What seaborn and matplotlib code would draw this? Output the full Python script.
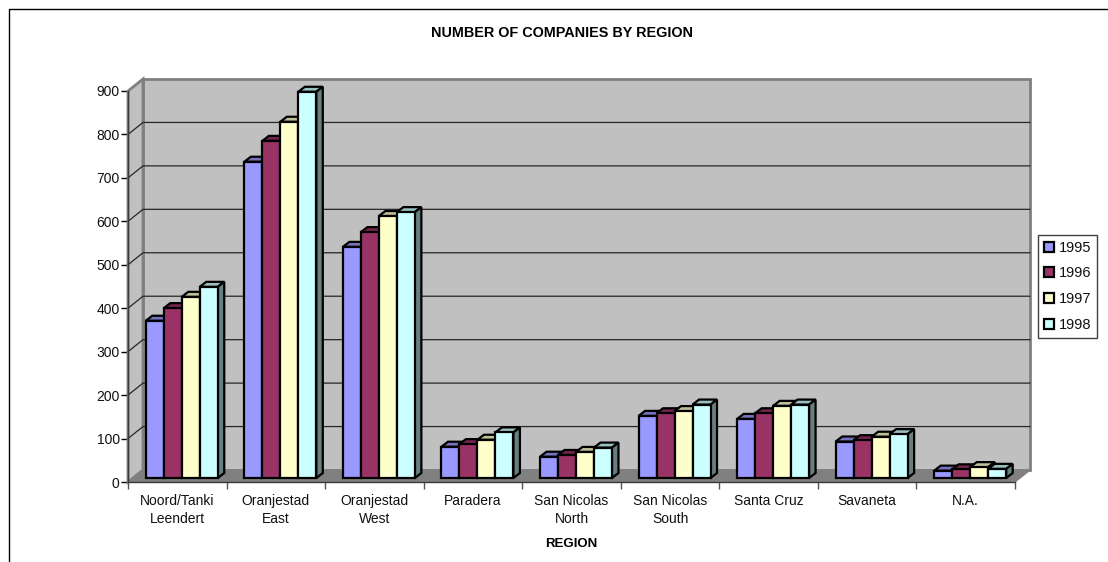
import numpy as np
import pandas as pd
import seaborn as sns
import matplotlib.pyplot as plt
from matplotlib.colors import to_rgb
from matplotlib.patches import Polygon, Rectangle

# SECTION - DATA
regions = [
    "Noord/Tanki\nLeendert",
    "Oranjestad\nEast",
    "Oranjestad\nWest",
    "Paradera",
    "San Nicolas\nNorth",
    "San Nicolas\nSouth",
    "Santa Cruz",
    "Savaneta",
    "N.A.",
]
years = ["1995", "1996", "1997", "1998"]
y1995 = [362, 728, 532, 72, 49, 143, 136, 84, 17]
y1996 = [391, 776, 566, 78, 53, 149, 149, 87, 20]
y1997 = [417, 820, 603, 88, 60, 154, 166, 95, 25]
y1998 = [440, 889, 612, 105, 70, 169, 169, 101, 21]
yticks = list(range(0, 1000, 100))
colors = ["#9999FF", "#993366", "#FFFFCC", "#CCFFFF"]
# !SECTION

W, H = 1108, 562
sns.set_theme(style="white")
plt.rcParams["font.family"] = ["Liberation Sans", "DejaVu Sans"]

df = pd.DataFrame(
    {"region": regions * 4, "year": np.repeat(years, 9), "count": y1995 + y1996 + y1997 + y1998}
)

fig = plt.figure(figsize=(W / 100, H / 100), dpi=100)
ax = fig.add_axes([128 / W, (H - 482) / H, (1015 - 128) / W, (482 - 91) / H])

sns.barplot(
    data=df, x="region", y="count", hue="year", order=regions, hue_order=years,
    palette=colors, saturation=1, width=0.73, gap=0, errorbar=None,
    edgecolor="black", linewidth=1.6, ax=ax, legend=False,
)
bars = sorted(ax.patches, key=lambda p: p.get_x())
ax.set_xlim(-0.5, 8.5)
ax.set_ylim(0, 900)

# pixels to data units
px = 9 / (1015 - 128)
py = 900 / (482 - 91)

# walls and floor of the 3D box
dx, dy = 15 * px, 12 * py
wall = dict(facecolor="#C0C0C0", edgecolor="#808080", linewidth=2, clip_on=False, zorder=1)
ax.add_patch(Rectangle((-0.5 + dx, dy), 9, 900, **wall))
ax.add_patch(Polygon([(-0.5, 0), (-0.5, 900), (-0.5 + dx, 900 + dy), (-0.5 + dx, dy)], **wall))
ax.add_patch(
    Polygon([(-0.5, 0), (8.5, 0), (8.5 + dx, dy), (-0.5 + dx, dy)],
            facecolor="#808080", edgecolor="#808080", linewidth=1, clip_on=False, zorder=1.1)
)
for v in yticks[1:-1]:
    ax.plot([-0.5, -0.5 + dx, 8.5 + dx], [v, v + dy, v + dy], color="#262626", lw=0.9,
            clip_on=False, zorder=1.2, solid_joinstyle="miter")


def shade(face, k):
    return tuple(c * k for c in to_rgb(face[:3]))


# bars sit a little behind the front edge, each gets a top and a side face
bx, by = 4.5 * px, 4 * py
ox, oy = 6.5 * px, 5 * py
for i, bar in enumerate(bars):
    z = 3 + i * 0.01
    face = bar.get_facecolor()
    bar.set_x(bar.get_x() + bx)
    bar.set_y(by)
    bar.set_zorder(z + 0.005)
    bar.set_clip_on(False)
    x0, x1 = bar.get_x(), bar.get_x() + bar.get_width()
    y0, y1 = by, by + bar.get_height()
    side = dict(edgecolor="black", linewidth=1.6, clip_on=False, zorder=z, joinstyle="miter")
    ax.add_patch(Polygon([(x0, y1), (x1, y1), (x1 + ox, y1 + oy), (x0 + ox, y1 + oy)],
                         facecolor=shade(face, 0.75), **side))
    ax.add_patch(Polygon([(x1, y0), (x1, y1), (x1 + ox, y1 + oy), (x1 + ox, y0 + oy)],
                         facecolor=shade(face, 0.5), **side))

# axes
for name in ["top", "right"]:
    ax.spines[name].set_visible(False)
for name in ["left", "bottom"]:
    ax.spines[name].set_color("#3A3A3A")
    ax.spines[name].set_linewidth(1)
    ax.spines[name].set_zorder(2)
ax.set_yticks(yticks)
ax.set_xticks(np.arange(-0.5, 9, 1), minor=True)
ax.set_xticks(range(9))
ax.set_xticklabels(regions, fontsize=10, color="#111111", linespacing=1.4)
ax.tick_params(axis="x", which="major", length=0, pad=8.5)
ax.tick_params(axis="x", which="minor", length=5, width=1, color="#555555", bottom=True)
ax.tick_params(axis="y", length=5, width=1, color="black", left=True, labelsize=10, labelcolor="#111111", pad=1)
ax.set_xlabel("")
ax.set_ylabel("")

fig.text(562 / W, 1 - 33 / H, "NUMBER OF COMPANIES BY REGION", fontsize=10.4, fontweight="bold",
         ha="center", va="center", color="black")
fig.text(571 / W, 1 - 544 / H, "REGION", fontsize=9.5, fontweight="bold",
         ha="center", va="center", color="black")

# outer chart frame, open on the right and bottom
fig.add_artist(plt.Line2D([8.5 / W, 8.5 / W, 1], [0, 1 - 8.5 / H, 1 - 8.5 / H], color="black", lw=1))

handles = [Rectangle((0, 0), 1, 1, facecolor=c, edgecolor="black", linewidth=1.6) for c in colors]
leg = ax.legend(
    handles, years, loc="upper left", bbox_to_anchor=(1038 / W, 1 - 235 / H),
    bbox_transform=fig.transFigure, fontsize=10.5, frameon=True, fancybox=False,
    edgecolor="#404040", framealpha=1, borderaxespad=0, borderpad=0.4,
    handlelength=0.7, handleheight=0.7, handletextpad=0.35, labelspacing=0.8,
)
leg.get_frame().set_linewidth(1)
for t in leg.get_texts():
    t.set_color("#111111")

fig.savefig("out.png", dpi=100, facecolor="white")
